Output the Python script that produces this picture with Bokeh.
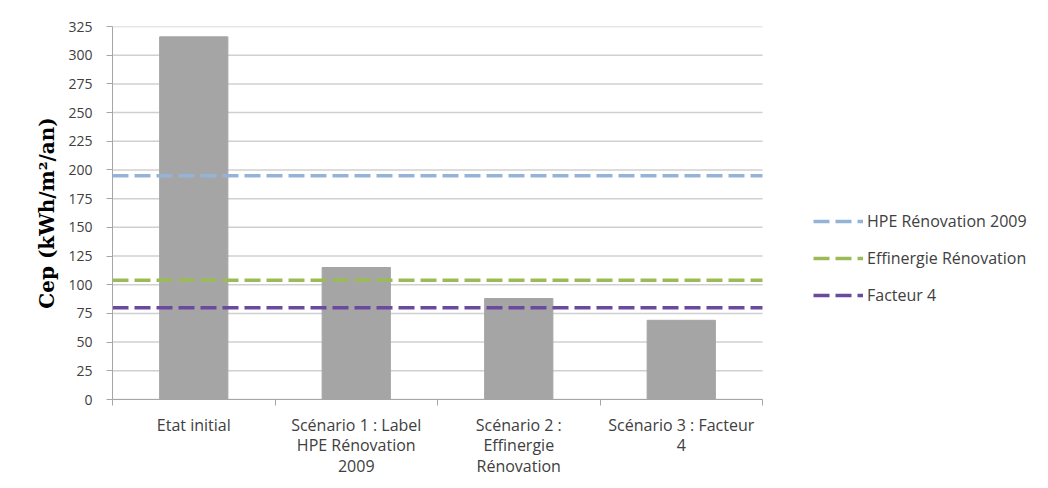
from bokeh.plotting import figure
from bokeh.models import Range1d, Legend, LegendItem, SingleIntervalTicker, FixedTicker
from bokeh.embed import file_html
from bokeh.resources import INLINE

categories = ["Etat initial", "Scénario 1 : Label\nHPE Rénovation\n2009",
              "Scénario 2 :\nEffinergie\nRénovation", "Scénario 3 : Facteur\n4"]
cep_values = [316, 115, 88, 69]

threshold_names = ["HPE Rénovation 2009", "Effinergie Rénovation", "Facteur 4"]
threshold_values = [195, 104, 80]
threshold_colors = ["#95b3d7", "#9bbb59", "#6a4a9c"]

y_ticks = list(range(0, 326, 25))

FONT = "Open Sans"
n = len(categories)
centers = [i + 0.5 for i in range(n)]

W, H = 1040, 480
LEFT, RIGHT, TOP, BOTTOM = 112, 0, 26, 79
frame_w = W - LEFT - RIGHT
cat_px = 650 / n
p = figure(width=W, height=H, x_range=Range1d(0, frame_w / cat_px),
           y_range=Range1d(0, 325), output_backend="svg", toolbar_location=None,
           min_border_left=LEFT, min_border_right=RIGHT, min_border_top=TOP, min_border_bottom=BOTTOM)
p.outline_line_color = None
p.xgrid.grid_line_color = None
p.ygrid.grid_line_color = None

# horizontal grid lines over the category span only
p.segment(x0=[0] * len(y_ticks), x1=[n] * len(y_ticks), y0=y_ticks, y1=y_ticks,
          line_color="#d0d0d0", line_width=1.5)

p.vbar(x=centers, top=cep_values, width=0.42, color="#a5a5a5")

items = []
for name, val, col in zip(threshold_names, threshold_values, threshold_colors):
    r = p.segment(x0=[0], x1=[n], y0=[val], y1=[val], line_color=col,
                  line_width=3.5, line_dash="16 6")
    items.append(LegendItem(label=name, renderers=[r]))

legend = Legend(items=items, location=(701, 93), background_fill_alpha=0,
                border_line_color=None, label_text_font=FONT, label_text_font_size="16px",
                label_text_color="#404040", glyph_width=50, glyph_height=20,
                spacing=15, label_standoff=4, padding=0, margin=0)
p.add_layout(legend, "center")

p.yaxis.ticker = SingleIntervalTicker(interval=25)
p.yaxis.minor_tick_line_color = None
p.yaxis.major_tick_out = 6
p.yaxis.major_tick_in = 0
p.yaxis.axis_line_color = "#a6a6a6"
p.yaxis.major_tick_line_color = "#a6a6a6"
p.yaxis.major_label_text_font = FONT
p.yaxis.major_label_text_font_size = "14px"
p.yaxis.major_label_text_color = "#404040"
p.yaxis.major_label_standoff = 14
p.yaxis.axis_label = "Cep (kWh/m²/an)"
p.yaxis.axis_label_text_font = "DejaVu Serif"
p.yaxis.axis_label_text_font_style = "bold"
p.yaxis.axis_label_text_font_size = "20px"
p.yaxis.axis_label_text_color = "#000000"
p.yaxis.axis_label_standoff = 6

p.xaxis.ticker = FixedTicker(ticks=centers, minor_ticks=list(range(n + 1)))
p.xaxis.major_label_overrides = {c: lab for c, lab in zip(centers, categories)}
p.xaxis.bounds = (0, n)
p.xaxis.axis_line_color = "#a6a6a6"
p.xaxis.major_tick_line_color = None
p.xaxis.minor_tick_line_color = "#a6a6a6"
p.xaxis.minor_tick_out = 6
p.xaxis.minor_tick_in = 0
p.xaxis.major_label_text_font = FONT
p.xaxis.major_label_text_font_size = "16px"
p.xaxis.major_label_text_line_height = 0.95
p.xaxis.major_label_text_color = "#404040"
p.xaxis.major_label_standoff = 8

open("out.html", "w").write(file_html(p, INLINE))
